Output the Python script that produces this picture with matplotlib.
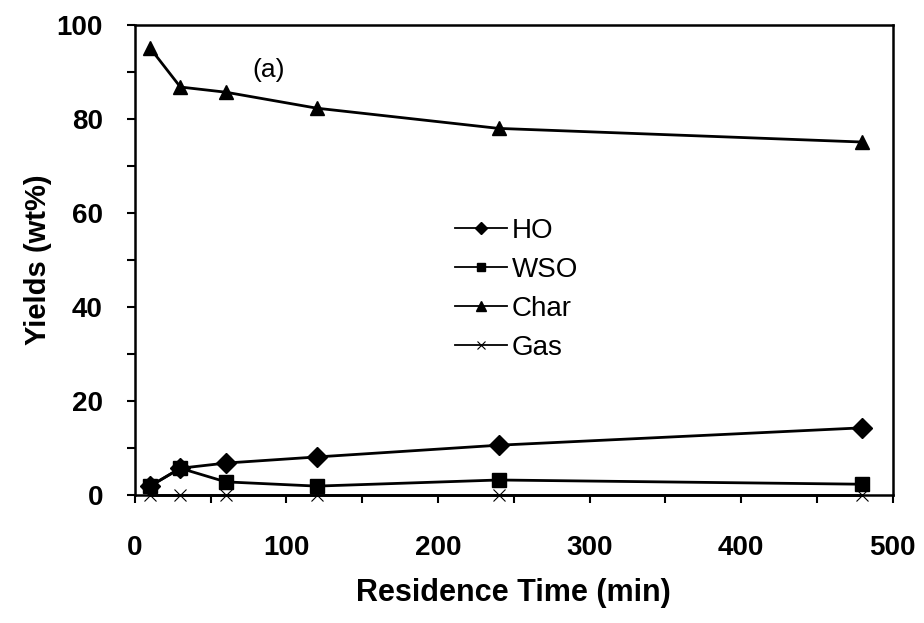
import matplotlib.pyplot as plt
from matplotlib.ticker import MultipleLocator

plt.rcParams['font.family'] = ['Liberation Sans', 'DejaVu Sans']

# residence time (min)
time_min = [10, 30, 60, 120, 240, 480]

# yields (wt%)
ho = [1.9, 5.7, 6.8, 8.1, 10.6, 14.3]
wso = [1.9, 5.7, 2.8, 1.9, 3.2, 2.3]
char = [95.1, 86.8, 85.7, 82.3, 78.0, 75.1]
gas = [0.0, 0.0, 0.0, 0.0, 0.0, 0.0]

fig = plt.figure(figsize=(9.24, 6.23), dpi=100)
ax = fig.add_axes([0.146, 0.2054, 0.820, 0.7545])

ax.plot(time_min, ho, color="black", lw=2, marker="D", ms=10, label="HO",
        clip_on=False)
ax.plot(time_min, wso, color="black", lw=2, marker="s", ms=9.5, label="WSO",
        clip_on=False)
ax.plot(time_min, char, color="black", lw=2, marker="^", ms=10, label="Char",
        clip_on=False)
ax.plot(time_min, gas, color="black", lw=2, marker="x", ms=9, mew=0.8,
        label="Gas", clip_on=False)

ax.set_xlim(0, 500)
ax.set_ylim(0, 100)
ax.xaxis.set_major_locator(MultipleLocator(100))
ax.xaxis.set_minor_locator(MultipleLocator(50))
ax.yaxis.set_major_locator(MultipleLocator(20))
ax.yaxis.set_minor_locator(MultipleLocator(10))
ax.tick_params(which="both", direction="out", length=6, width=1.5,
               labelsize=20)
ax.tick_params(axis="x", pad=23)
ax.tick_params(axis="y", pad=17)
for lbl in ax.get_xticklabels() + ax.get_yticklabels():
    lbl.set_fontweight("bold")
for sp in ax.spines.values():
    sp.set_linewidth(1.8)

ax.set_xlabel("Residence Time (min)", fontsize=22, fontweight="bold",
              labelpad=12)
ax.set_ylabel("Yields (wt%)", fontsize=21, fontweight="bold", labelpad=3)

ax.text(88, 90.4, "(a)", fontsize=19, ha="center", va="center")

leg = ax.legend(loc="upper left", bbox_to_anchor=(0.422, 0.59), frameon=False,
                fontsize=20, handlelength=1.9, handletextpad=0.15,
                labelspacing=0.47, markerscale=0.65, borderpad=0,
                borderaxespad=0)
for h in leg.legend_handles:
    h.set_linewidth(1.3)

fig.savefig("out.png", dpi=100)
